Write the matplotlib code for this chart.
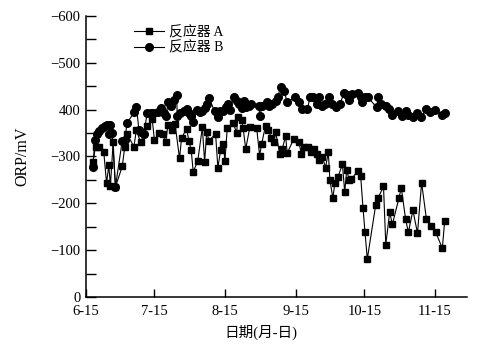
import matplotlib
matplotlib.use("Agg")
import matplotlib.pyplot as plt
from matplotlib.ticker import MultipleLocator

plt.rcParams['font.family'] = ['Liberation Serif', 'Noto Sans CJK SC']

# day offsets from 6-15 and ORP values (mV)
days_a = [3, 4.2, 5.9, 7.8, 9, 10, 10.7, 11.9, 12.9, 15.9, 17, 18, 21, 22.1, 23.9,
          26.8, 29, 30, 32.2, 33.7, 34.9, 35.9, 37.8, 39, 41, 41.9, 44.1, 45.1, 46.1,
          47, 49, 51, 52, 52.9, 53.9, 56.8, 57.8, 59, 60.2, 60.9, 61.9, 64.6, 66, 66.6,
          68.2, 68.9, 70, 71.8, 74.8, 76.1, 77, 78.7, 79.9, 81.2, 82.4, 83.1, 84.9, 86,
          87.5, 88.2, 91.1, 93.3, 94.4, 95.5, 97.4, 98.5, 99.9, 101.1, 102.1, 103.6,
          105, 106.2, 106.9, 108.2, 109.1, 110.4, 112.4, 113.4, 114.3, 115.3, 116.3,
          119.2, 120.4, 121.4, 122.3, 123.3, 127, 128, 130.4, 131.4, 133.1, 134.3,
          137.2, 138.2, 140.1, 141.3, 143.3, 145.3, 147.1, 149.2, 151.1, 153.3, 156.2,
          157.2]
orp_a = [-288, -321, -321, -309, -243, -281, -238, -330, -235, -279, -321, -348, -321,
         -357, -330, -364, -380, -335, -350, -348, -330, -367, -357, -370, -296, -340,
         -359, -333, -314, -267, -291, -362, -288, -352, -334, -348, -276, -313, -326,
         -290, -360, -371, -350, -384, -378, -360, -316, -362, -361, -302, -327, -366,
         -357, -340, -330, -353, -306, -316, -343, -307, -338, -330, -306, -321, -320,
         -309, -316, -306, -293, -299, -276, -309, -250, -211, -244, -256, -283, -224,
         -272, -249, -251, -270, -258, -191, -138, -81, -197, -211, -236, -112, -181,
         -155, -212, -233, -166, -138, -185, -136, -244, -167, -152, -138, -104, -162]

days_b = [3, 3.9, 4.9, 5.9, 7.1, 8.2, 9.3, 10, 10.4, 11.5, 12.9, 15.9, 17, 18, 21, 22.1,
          23.2, 24.3, 25.4, 26.8, 28.3, 29.5, 31.5, 32.7, 34.1, 35.2, 35.9, 37.4, 38.5,
          39.7, 40, 41.4, 42.9, 44.1, 45.1, 46.1, 47, 48.5, 49.8, 51, 52, 52.9, 53.9,
          56.4, 57.8, 58.7, 60.2, 61.2, 62.2, 63.1, 64.8, 66, 67, 68.2, 69.2, 70.3, 71.4,
          72.5, 75.8, 76.1, 77.3, 79.2, 80.2, 81.7, 83.1, 84.1, 85.3, 86.8, 88.2, 91.4,
          93.3, 94.8, 97, 98.2, 99.6, 101.1, 102.1, 103.6, 104.7, 106.5, 108, 109.4,
          111.3, 113.1, 114.3, 115.3, 116.8, 119.4, 120.4, 121.1, 122.3, 123.6, 127.4,
          128.1, 129.2, 131.4, 132.8, 134.3, 136.8, 138.7, 140.1, 141.3, 143.3, 145,
          147, 149.2, 150.8, 153, 156.2, 157.4]
orp_b = [-277, -336, -348, -355, -360, -365, -367, -348, -367, -350, -235, -334, -336,
         -371, -394, -405, -357, -352, -348, -393, -393, -393, -394, -404, -392, -387,
         -416, -408, -421, -432, -387, -392, -396, -401, -392, -386, -373, -400, -394,
         -398, -404, -412, -425, -396, -384, -396, -398, -406, -413, -400, -428, -419,
         -413, -404, -419, -406, -408, -411, -408, -387, -407, -416, -408, -411, -418,
         -428, -449, -440, -416, -426, -416, -401, -401, -426, -428, -412, -428, -408,
         -412, -428, -412, -406, -412, -435, -431, -421, -433, -435, -426, -416, -428,
         -426, -405, -428, -412, -408, -401, -389, -396, -387, -398, -389, -384, -392,
         -385, -401, -394, -399, -389, -393]

x_ticks = [0, 30, 61, 92, 122, 153]
x_labels = ['6-15', '7-15', '8-15', '9-15', '10-15', '11-15']
y_ticks = [-600, -500, -400, -300, -200, -100, 0]
y_labels = ['\u2212600', '\u2212500', '400', '\u2212300', '\u2212200', '\u2212100', '0']

fig = plt.figure(figsize=(5.0, 3.54), dpi=100)
ax = fig.add_axes([0.172, 0.161, 0.762, 0.794])

ax.plot(days_a, orp_a, color='black', lw=0.8, marker='s', ms=5, label='反应器 A')
ax.plot(days_b, orp_b, color='black', lw=0.8, marker='o', ms=5.5, label='反应器 B')

ax.set_xlim(0, 167)
ax.set_ylim(0, -600)
ax.set_xticks(x_ticks)
ax.set_xticklabels(x_labels)
ax.set_yticks(y_ticks)
ax.set_yticklabels(y_labels)
ax.yaxis.set_minor_locator(MultipleLocator(50))

for s in ['top', 'right']:
    ax.spines[s].set_visible(False)
for s in ['left', 'bottom']:
    ax.spines[s].set_linewidth(1.1)

ax.tick_params(axis='both', which='major', direction='in', width=1.0, labelsize=10.5)
ax.tick_params(axis='y', which='major', length=7, pad=4)
ax.tick_params(axis='y', which='minor', direction='in', length=7, width=1.0)
ax.tick_params(axis='x', which='major', length=5.5, pad=5.5)

ax.set_xlabel('日期(月-日)', fontsize=10.5)
ax.xaxis.set_label_coords(0.46, -0.1)
ax.set_ylabel('ORP/mV', fontsize=11.5)
ax.yaxis.set_label_coords(-0.145, 0.5)

leg = ax.legend(loc='upper left', bbox_to_anchor=(0.1, 1.0), frameon=False,
                fontsize=10, handlelength=2.2, handletextpad=0.3, labelspacing=0.15,
                borderpad=0.2)

fig.savefig('out.png', dpi=100)
